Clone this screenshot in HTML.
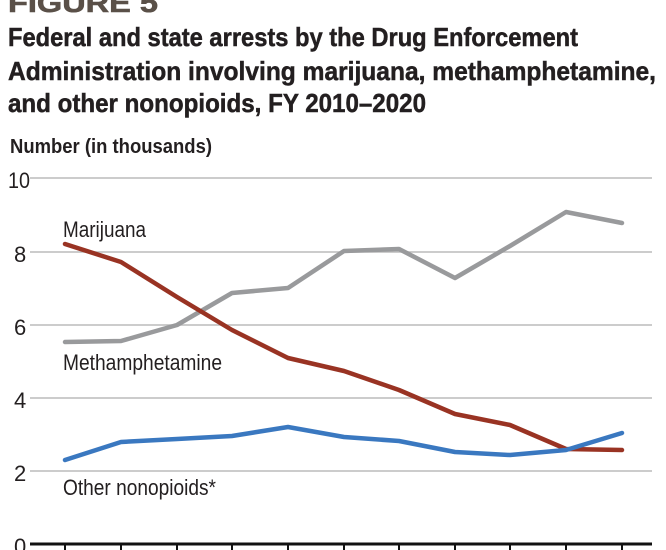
<!DOCTYPE html>
<html><head><style>
html,body{margin:0;padding:0;background:#fff;}
svg{display:block;font-family:"Liberation Sans Narrow","Liberation Sans",sans-serif;}
</style></head><body>
<svg width="666" height="550" viewBox="0 0 666 550" xmlns="http://www.w3.org/2000/svg">
<text x="8" y="12" font-size="27" font-weight="bold" fill="#5a5048" stroke="#5a5048" stroke-width="0.6" textLength="150" lengthAdjust="spacingAndGlyphs">FIGURE 5</text>
<g font-size="26" font-weight="bold" fill="#231f20" stroke="#231f20" stroke-width="0.5">
<text x="8" y="46" textLength="570" lengthAdjust="spacingAndGlyphs">Federal and state arrests by the Drug Enforcement</text>
<text x="8" y="80" textLength="648" lengthAdjust="spacingAndGlyphs">Administration involving marijuana, methamphetamine,</text>
<text x="8" y="112" textLength="418" lengthAdjust="spacingAndGlyphs">and other nonopioids, FY 2010–2020</text>
</g>
<text x="10" y="153" font-size="20" font-weight="bold" fill="#231f20" textLength="202" lengthAdjust="spacingAndGlyphs">Number (in thousands)</text>
<g stroke="#bbb" stroke-width="1.5">
<line x1="30" y1="178" x2="652" y2="178"/>
<line x1="30" y1="252" x2="652" y2="252"/>
<line x1="30" y1="325" x2="652" y2="325"/>
<line x1="30" y1="398" x2="652" y2="398"/>
<line x1="30" y1="471" x2="652" y2="471"/>
</g>
<line x1="30" y1="544" x2="652" y2="544" stroke="#111" stroke-width="3"/>
<g stroke="#111" stroke-width="2">
<line x1="65" y1="544" x2="65" y2="550"/><line x1="121" y1="544" x2="121" y2="550"/><line x1="177" y1="544" x2="177" y2="550"/><line x1="232" y1="544" x2="232" y2="550"/><line x1="288" y1="544" x2="288" y2="550"/><line x1="344" y1="544" x2="344" y2="550"/><line x1="399" y1="544" x2="399" y2="550"/><line x1="455" y1="544" x2="455" y2="550"/><line x1="510" y1="544" x2="510" y2="550"/><line x1="566" y1="544" x2="566" y2="550"/><line x1="622" y1="544" x2="622" y2="550"/>
</g>
<g font-size="22" fill="#231f20">
<text x="8" y="188" textLength="22" lengthAdjust="spacingAndGlyphs">10</text>
<text x="14" y="262">8</text>
<text x="14" y="335">6</text>
<text x="14" y="408">4</text>
<text x="14" y="481">2</text>
<text x="14" y="554">0</text>
</g>
<g fill="none" stroke-width="4.5" stroke-linejoin="round" stroke-linecap="round">
<polyline stroke="#999a9c" points="65,342 121,341 177,325 232,293 288,288 344,251 399,249 455,278 510,246 566,212 622,223"/>
<polyline stroke="#993323" points="65,244 121,262 177,297 232,330 288,358 344,371 399,390 455,414 510,425 566,449 622,450"/>
<polyline stroke="#3a78c0" points="65,460 121,442 177,439 232,436 288,427 344,437 399,441 455,452 510,455 566,450 622,433"/>
</g>
<g font-size="22" fill="#231f20">
<text x="63" y="237" textLength="83" lengthAdjust="spacingAndGlyphs">Marijuana</text>
<text x="63" y="370" textLength="159" lengthAdjust="spacingAndGlyphs">Methamphetamine</text>
<text x="63" y="495" textLength="153" lengthAdjust="spacingAndGlyphs">Other nonopioids*</text>
</g>
</svg>
</body></html>
